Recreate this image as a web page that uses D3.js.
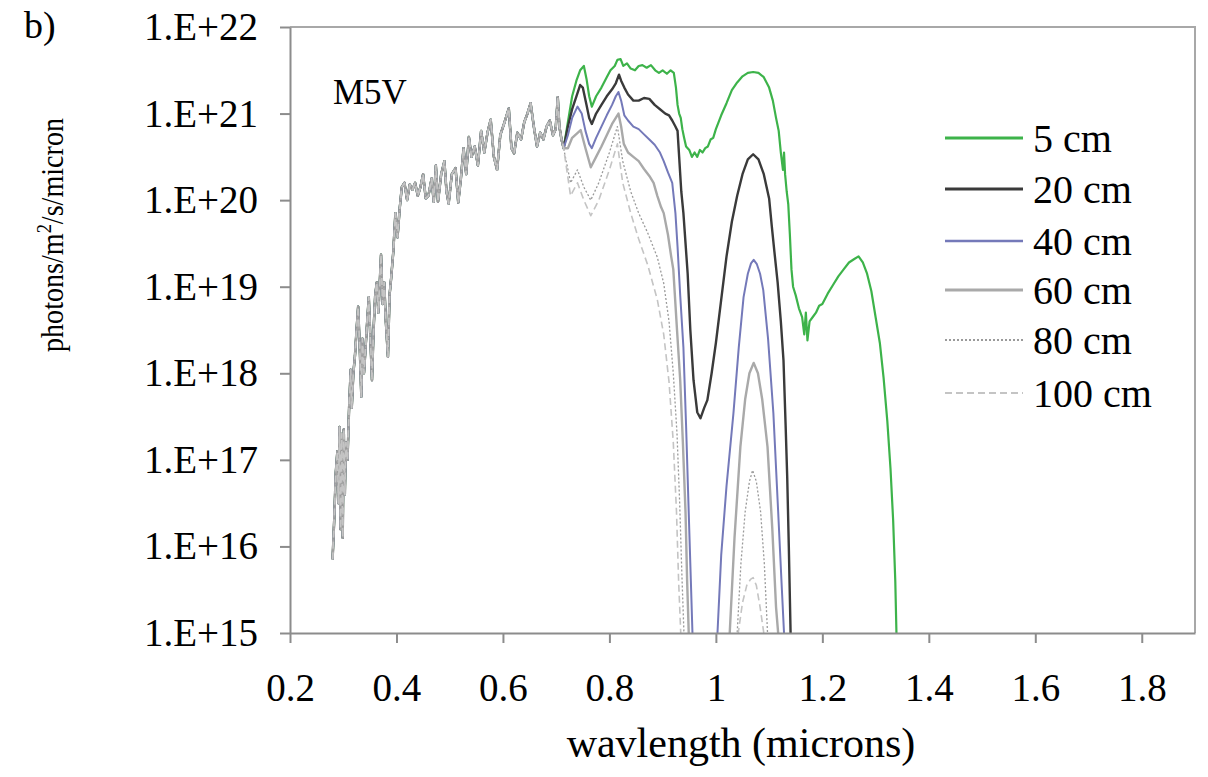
<!DOCTYPE html>
<meta charset="utf-8">
<style>
  body { margin: 0; background: #fff; }
  text { font-family: "Liberation Serif", "Times New Roman", serif; fill: #000; }
  .axis path, .axis line { stroke: #8c8c8c; stroke-width: 2; }
  .axis text { font-size: 39px; }
  .line { fill: none; stroke-linejoin: round; }
</style>

<svg width="1208" height="777"></svg>
<script src="https://d3js.org/d3.v7.min.js"></script>

<script>
  // ---- data (wavelength in microns, log10 of photons/m2/s/micron) ----
  var seriesLabels = ["5 cm", "20 cm", "40 cm", "60 cm", "80 cm", "100 cm"];

  // part of the spectrum shared by every depth (below ~0.71 micron)
  var sharedUV = [
    [0.280, 15.85], [0.283, 16.3], [0.286, 16.85], [0.289, 17.1], [0.291, 16.5], [0.293, 17.38],
    [0.295, 16.2], [0.297, 17.3], [0.299, 16.1], [0.301, 17.35], [0.303, 16.6], [0.305, 17.2],
    [0.308, 17.0], [0.311, 17.6], [0.314, 18.04], [0.316, 17.6], [0.319, 18.0], [0.322, 18.2],
    [0.325, 18.5], [0.328, 18.77], [0.331, 18.3], [0.334, 17.73], [0.336, 18.4], [0.339, 18.0],
    [0.342, 18.3], [0.345, 18.6], [0.348, 18.88], [0.351, 18.4], [0.354, 17.92], [0.357, 18.5],
    [0.360, 18.9], [0.363, 19.05], [0.366, 18.7], [0.369, 19.1], [0.371, 19.37], [0.374, 18.8],
    [0.377, 19.05], [0.380, 18.6], [0.384, 18.19], [0.387, 18.9], [0.390, 19.1], [0.394, 19.4],
    [0.398, 19.85], [0.402, 19.57], [0.406, 19.9], [0.410, 20.15], [0.415, 20.2], [0.420, 20.0],
    [0.425, 20.18], [0.430, 20.12], [0.435, 20.2], [0.440, 20.05], [0.445, 20.15], [0.450, 20.3],
    [0.455, 20.02], [0.460, 20.05], [0.466, 20.25], [0.470, 19.98], [0.474, 20.4], [0.478, 19.98],
    [0.484, 20.3], [0.490, 20.45], [0.494, 20.1], [0.498, 19.96], [0.504, 20.3], [0.511, 20.37],
    [0.516, 19.97], [0.521, 20.25], [0.526, 20.6], [0.531, 20.3], [0.536, 20.73], [0.541, 20.5],
    [0.547, 20.62], [0.553, 20.4], [0.559, 20.8], [0.565, 20.55], [0.571, 20.78], [0.577, 20.93],
    [0.583, 20.5], [0.589, 20.35], [0.595, 20.75], [0.602, 20.88], [0.611, 21.06], [0.616, 20.6],
    [0.621, 20.54], [0.627, 20.78], [0.634, 20.7], [0.640, 20.9], [0.646, 21.0], [0.652, 21.12],
    [0.658, 20.85], [0.664, 20.62], [0.670, 20.78], [0.676, 20.7], [0.682, 20.85], [0.688, 20.92],
    [0.694, 20.75], [0.699, 20.82], [0.703, 21.19], [0.706, 20.85], [0.710, 20.7], [0.714, 20.6]
  ];

  var flux5cm = [
    [0.722, 20.9], [0.730, 21.2], [0.738, 21.38], [0.745, 21.5], [0.752, 21.55], [0.757, 21.4],
    [0.762, 21.2], [0.767, 21.08], [0.775, 21.2], [0.785, 21.3], [0.795, 21.42], [0.802, 21.5],
    [0.810, 21.55], [0.815, 21.62], [0.821, 21.63], [0.826, 21.55], [0.833, 21.58], [0.840, 21.52],
    [0.848, 21.5], [0.855, 21.55], [0.862, 21.56], [0.870, 21.53], [0.878, 21.56], [0.886, 21.5],
    [0.893, 21.47], [0.900, 21.5], [0.908, 21.46], [0.915, 21.5], [0.921, 21.47], [0.925, 21.3],
    [0.928, 21.1], [0.931, 21.0], [0.934, 20.95], [0.937, 20.82], [0.940, 20.73], [0.944, 20.62],
    [0.950, 20.58], [0.955, 20.5], [0.960, 20.55], [0.965, 20.5], [0.970, 20.58], [0.975, 20.55],
    [0.980, 20.6], [0.985, 20.62], [0.990, 20.7], [0.995, 20.72], [1.000, 20.82], [1.010, 20.98],
    [1.020, 21.12], [1.030, 21.27], [1.040, 21.36], [1.050, 21.43], [1.060, 21.47], [1.070, 21.48],
    [1.080, 21.47], [1.090, 21.42], [1.100, 21.3], [1.107, 21.15], [1.113, 20.95], [1.118, 20.8],
    [1.122, 20.55], [1.126, 20.35], [1.128, 20.55], [1.130, 20.3], [1.133, 20.1], [1.136, 19.95],
    [1.139, 19.6], [1.142, 19.2], [1.145, 19.0], [1.150, 18.9], [1.156, 18.75], [1.162, 18.65],
    [1.166, 18.45], [1.169, 18.7], [1.172, 18.38], [1.176, 18.6], [1.182, 18.65], [1.188, 18.7],
    [1.194, 18.78], [1.200, 18.8], [1.210, 18.92], [1.220, 19.02], [1.230, 19.12], [1.240, 19.2],
    [1.250, 19.28], [1.260, 19.32], [1.268, 19.35], [1.276, 19.28], [1.284, 19.15], [1.292, 18.95],
    [1.300, 18.65], [1.308, 18.35], [1.315, 17.95], [1.322, 17.45], [1.328, 16.9], [1.333, 16.3],
    [1.337, 15.6], [1.341, 14.5]
  ];

  var flux20cm = [
    [0.722, 20.85], [0.730, 21.05], [0.738, 21.2], [0.745, 21.33], [0.750, 21.3], [0.757, 21.1],
    [0.762, 20.95], [0.767, 20.88], [0.775, 21.0], [0.785, 21.1], [0.795, 21.2], [0.805, 21.28],
    [0.812, 21.35], [0.818, 21.45], [0.822, 21.38], [0.828, 21.3], [0.835, 21.22], [0.845, 21.15],
    [0.855, 21.15], [0.865, 21.18], [0.875, 21.17], [0.885, 21.1], [0.895, 21.05], [0.905, 21.0],
    [0.912, 20.98], [0.918, 20.92], [0.924, 20.85], [0.928, 20.8], [0.931, 20.5], [0.935, 20.1],
    [0.939, 19.85], [0.943, 19.5], [0.947, 19.15], [0.952, 18.5], [0.958, 17.92], [0.965, 17.55],
    [0.971, 17.48], [0.978, 17.6], [0.984, 17.69], [0.992, 18.0], [1.000, 18.35], [1.010, 18.85],
    [1.020, 19.35], [1.030, 19.75], [1.040, 20.05], [1.050, 20.3], [1.060, 20.47], [1.070, 20.53],
    [1.080, 20.47], [1.090, 20.3], [1.100, 20.02], [1.105, 19.7], [1.110, 19.4], [1.116, 19.05],
    [1.122, 18.6], [1.127, 18.15], [1.131, 17.4], [1.134, 16.8], [1.137, 16.0], [1.140, 15.1],
    [1.142, 14.5]
  ];

  var flux40cm = [
    [0.722, 20.75], [0.730, 20.95], [0.740, 21.08], [0.748, 21.0], [0.755, 20.8], [0.762, 20.65],
    [0.767, 20.6], [0.775, 20.72], [0.785, 20.85], [0.795, 20.98], [0.805, 21.1], [0.812, 21.2],
    [0.817, 21.25], [0.822, 21.15], [0.828, 20.98], [0.835, 20.92], [0.845, 20.85], [0.855, 20.82],
    [0.865, 20.76], [0.875, 20.7], [0.885, 20.64], [0.895, 20.55], [0.902, 20.45], [0.910, 20.32],
    [0.918, 20.2], [0.924, 19.85], [0.928, 19.46], [0.933, 18.9], [0.939, 18.3], [0.944, 17.4],
    [0.949, 16.39], [0.953, 15.6], [0.956, 15.0], [0.958, 14.5], [1.000, 14.5], [1.003, 15.0],
    [1.010, 15.9], [1.020, 16.7], [1.033, 17.54], [1.043, 18.3], [1.052, 18.88], [1.060, 19.15],
    [1.066, 19.27], [1.071, 19.31], [1.077, 19.26], [1.083, 19.15], [1.089, 18.96], [1.098, 18.4],
    [1.108, 17.54], [1.117, 16.4], [1.124, 15.5], [1.128, 15.0], [1.130, 14.5]
  ];

  var flux60cm = [
    [0.722, 20.6], [0.730, 20.72], [0.746, 20.81], [0.755, 20.6], [0.765, 20.38], [0.775, 20.5],
    [0.785, 20.62], [0.795, 20.75], [0.805, 20.88], [0.812, 20.95], [0.817, 21.0], [0.822, 20.85],
    [0.827, 20.65], [0.835, 20.55], [0.845, 20.5], [0.855, 20.45], [0.865, 20.36], [0.875, 20.28],
    [0.883, 20.2], [0.890, 20.05], [0.897, 19.92], [0.902, 19.85], [0.910, 19.6], [0.916, 19.35],
    [0.920, 19.2], [0.927, 18.5], [0.933, 17.92], [0.938, 17.2], [0.943, 16.39], [0.946, 15.6],
    [0.949, 15.0], [0.952, 14.5], [1.020, 14.5], [1.026, 15.0], [1.035, 16.1], [1.046, 17.15],
    [1.055, 17.7], [1.063, 18.0], [1.071, 18.12], [1.079, 18.0], [1.087, 17.7], [1.097, 17.15],
    [1.106, 16.2], [1.113, 15.3], [1.117, 15.0], [1.120, 14.5]
  ];

  var flux80cm = [
    [0.727, 20.2], [0.740, 20.35], [0.752, 20.15], [0.765, 20.0], [0.780, 20.2], [0.800, 20.55],
    [0.815, 20.85], [0.825, 20.45], [0.840, 20.1], [0.855, 19.85], [0.872, 19.62], [0.890, 19.34],
    [0.902, 19.04], [0.912, 18.6], [0.920, 18.0], [0.927, 17.3], [0.932, 16.5], [0.936, 15.7],
    [0.940, 15.0], [0.943, 14.5], [1.035, 14.5], [1.040, 15.0], [1.047, 15.8], [1.055, 16.4],
    [1.063, 16.75], [1.069, 16.88], [1.076, 16.75], [1.084, 16.4], [1.091, 15.8], [1.097, 15.0],
    [1.101, 14.5]
  ];

  var flux100cm = [
    [0.727, 20.05], [0.740, 20.2], [0.752, 20.0], [0.765, 19.82], [0.780, 20.0], [0.800, 20.35],
    [0.815, 20.65], [0.825, 20.2], [0.840, 19.85], [0.855, 19.55], [0.872, 19.25], [0.890, 18.85],
    [0.902, 18.45], [0.912, 17.9], [0.920, 17.2], [0.926, 16.4], [0.930, 15.6], [0.934, 15.0],
    [0.937, 14.5], [1.038, 14.5], [1.042, 15.0], [1.050, 15.35], [1.058, 15.55], [1.065, 15.62],
    [1.070, 15.64], [1.076, 15.55], [1.083, 15.3], [1.090, 15.0], [1.094, 14.5]
  ];

  var xTicks = [0.2, 0.4, 0.6, 0.8, 1.0, 1.2, 1.4, 1.6, 1.8];
  var yTicks = [1e15, 1e16, 1e17, 1e18, 1e19, 1e20, 1e21, 1e22];

  // ---- layout ----
  var svg = d3.select("svg"),
      margin = {top: 27, right: 13, bottom: 144, left: 290},
      width = +svg.attr("width") - margin.left - margin.right,
      height = +svg.attr("height") - margin.top - margin.bottom;

  var x = d3.scaleLinear().domain([0.2, 1.9]).range([0, width]),
      y = d3.scaleLog().domain([1e15, 1e22]).range([height, 0]);

  var g = svg.append("g").attr("transform", "translate(" + margin.left + "," + margin.top + ")");

  g.append("clipPath").attr("id", "plot-clip")
    .append("rect").attr("width", width).attr("height", height);

  // frame (top and right edges)
  g.append("path")
    .attr("d", "M0,0H" + width + "V" + height)
    .attr("fill", "none")
    .attr("stroke", "#a8a8a8")
    .attr("stroke-width", 2);

  // ---- series ----
  var styles = [
    {color: "#3db34a", w: 2.2, dash: null},
    {color: "#3a3a3a", w: 2.4, dash: null},
    {color: "#7479b9", w: 2, dash: null},
    {color: "#a9a9a9", w: 2.4, dash: null},
    {color: "#9a9a9a", w: 1.3, dash: "2,2"},
    {color: "#c4c4c4", w: 1.6, dash: "7,4"}
  ];
  var tails = [flux5cm, flux20cm, flux40cm, flux60cm, flux80cm, flux100cm];

  var line = d3.line()
    .x(function(d) { return x(d[0]); })
    .y(function(d) { return y(Math.pow(10, d[1])); });

  var plot = g.append("g").attr("clip-path", "url(#plot-clip)");
  tails.forEach(function(t, i) {
    plot.append("path")
      .datum(sharedUV.concat(t))
      .attr("class", "line")
      .attr("d", line)
      .attr("stroke", styles[i].color)
      .attr("stroke-width", styles[i].w)
      .attr("stroke-dasharray", styles[i].dash);
  });

  // ---- axes ----
  g.append("g")
    .attr("class", "axis")
    .attr("transform", "translate(0," + height + ")")
    .call(d3.axisBottom(x).tickValues(xTicks).tickSizeInner(10).tickSizeOuter(0).tickPadding(30)
      .tickFormat(function(d) { return String(+d.toFixed(1)); }));

  g.append("g")
    .attr("class", "axis")
    .call(d3.axisLeft(y).tickValues(yTicks).tickSizeInner(10).tickSizeOuter(0).tickPadding(22)
      .tickFormat(function(d) { return "1.E+" + Math.round(Math.log10(d)); }));

  // ---- legend ----
  var legend = svg.append("g").attr("transform", "translate(945,138)");
  seriesLabels.forEach(function(label, i) {
    var row = legend.append("g").attr("transform", "translate(0," + [0, 51, 103, 152, 202, 255][i] + ")");
    row.append("line")
      .attr("x1", 0).attr("x2", 78)
      .attr("stroke", styles[i].color)
      .attr("stroke-width", styles[i].w + 0.6)
      .attr("stroke-dasharray", styles[i].dash);
    row.append("text")
      .attr("x", 88).attr("dy", "0.35em")
      .attr("font-size", 40)
      .text(label);
  });

  // ---- labels ----
  svg.append("text").attr("x", 24).attr("y", 38).attr("font-size", 38).text("b)");
  svg.append("text").attr("x", 333).attr("y", 104).attr("font-size", 35).text("M5V");

  svg.append("text")
    .attr("x", 741).attr("y", 757)
    .attr("text-anchor", "middle")
    .attr("font-size", 42)
    .text("wavlength (microns)");

  var yTitle = svg.append("text")
    .attr("transform", "translate(63,235) rotate(-90)")
    .attr("text-anchor", "middle")
    .attr("font-size", 32)
    .attr("textLength", 234)
    .attr("lengthAdjust", "spacingAndGlyphs");
  yTitle.append("tspan").text("photons/m");
  yTitle.append("tspan").attr("font-size", 21).attr("dy", "-0.55em").text("2");
  yTitle.append("tspan").attr("dy", "0.35em").text("/s/micron");
</script>
